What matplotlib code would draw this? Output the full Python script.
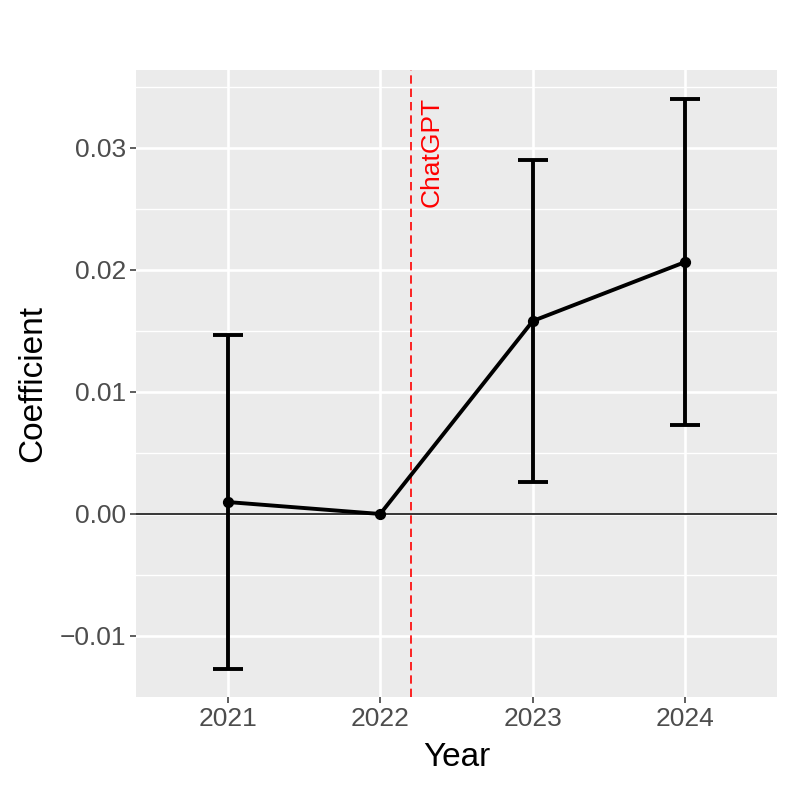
import matplotlib
matplotlib.use("Agg")
import matplotlib.pyplot as plt

years = [2021, 2022, 2023, 2024]
coef = [0.00098, 0.0, 0.01582, 0.02066]
lower = [-0.0127, 0.0, 0.00262, 0.0073]
upper = [0.01467, 0.0, 0.0290, 0.0340]
event_x = 2022.2
event_label = "ChatGPT"
yticks = [-0.01, 0.0, 0.01, 0.02, 0.03]
ytick_labels = ["\u22120.01", "0.00", "0.01", "0.02", "0.03"]

plt.rcParams['font.family'] = ['Liberation Sans', 'DejaVu Sans']

fig = plt.figure(figsize=(7.93, 7.93), dpi=100)
ax = fig.add_axes([136/793, 1-697/793, (777-136)/793, (697-70)/793])
ax.set_facecolor('#EBEBEB')
for s in ax.spines.values():
    s.set_visible(False)

ax.set_xlim(2020.4, 2024.6)
ax.set_ylim(-0.01500, 0.03639)

# grid
ax.set_yticks(yticks)
ax.set_yticklabels(ytick_labels)
ax.set_yticks([-0.005, 0.005, 0.015, 0.025, 0.035], minor=True)
ax.set_xticks(years)
ax.set_xticklabels([str(y) for y in years])
ax.set_xticks([], minor=True)
ax.grid(True, which='major', color='white', linewidth=1.9)
ax.grid(True, which='minor', axis='y', color='white', linewidth=0.95)
ax.set_axisbelow(True)
ax.tick_params(which='minor', length=0)
ax.tick_params(which='major', length=4, width=1.1, color='#333333',
               labelsize=19, labelcolor='#4D4D4D', pad=3)

# zero line
ax.axhline(0, color='black', linewidth=1.1, zorder=2)

# event line
ax.axvline(event_x, color='red', linestyle=(0, (5, 3)), linewidth=1.2, zorder=2)
ax.text(event_x + 0.14, 0.0297, event_label, rotation=90, color='red',
        fontsize=19, ha='center', va='center', zorder=3)

# error bars (skip zero-width reference year)
eb_x = [x for x, l, u in zip(years, lower, upper) if u != l]
eb_c = [c for c, l, u in zip(coef, lower, upper) if u != l]
eb_lo = [c - l for c, l, u in zip(coef, lower, upper) if u != l]
eb_hi = [u - c for c, l, u in zip(coef, lower, upper) if u != l]
ax.errorbar(eb_x, eb_c, yerr=[eb_lo, eb_hi], fmt='none', ecolor='black',
            elinewidth=2.8, capsize=10.5, capthick=2.8, zorder=4)
ax.plot(years, coef, color='black', linewidth=2.8, zorder=5)
ax.scatter(years, coef, color='black', s=50, zorder=6)

fig.text(457/793, 1-758/793, 'Year', fontsize=24, color='black',
         ha='center', va='center')
fig.text(33/793, 1-383/793, 'Coefficient', fontsize=24, color='black',
         ha='center', va='center', rotation=90)

fig.savefig('out.png', dpi=100)
